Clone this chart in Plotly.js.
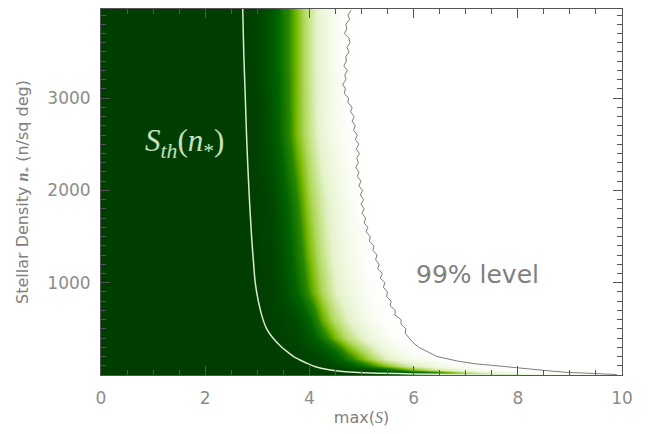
<!DOCTYPE html>
<html>
<head>
<meta charset="utf-8">
<script src="https://cdn.plot.ly/plotly-3.0.1.min.js"></script>
<style>html,body{margin:0;padding:0;background:#fff;}#chart{width:652px;height:434px;}</style>
</head>
<body>
<div id="chart"></div>
<script>
// Heatmap grid: columns are max(S), rows are stellar density n*
const heatX = [0, 2.75, 3.0, 3.25, 3.5, 3.75, 4.0, 4.25, 4.5, 4.75, 5.0, 5.25, 5.5, 5.75, 6.0, 6.5, 7.0, 7.5, 8.0, 8.5, 10];
const heatN = [0, 20, 50, 100, 170, 250, 400, 600, 900, 1300, 1900, 2600, 3300, 4000];
// brightness level 0 (dark green) .. 1 (white), one row per heatN value
const row0    = [0,0,0,0,0,0,0,0,0,0,0,0,0,0,0.04,0.10,0.30,0.55,0.75,0.90,1];
const row20   = [0,0,0,0,0,0,0,0,0,0,0.01,0.03,0.05,0.09,0.17,0.36,0.62,0.80,0.93,0.98,1];
const row50   = [0,0,0,0,0,0,0,0.01,0.03,0.06,0.10,0.20,0.32,0.44,0.55,0.73,0.90,0.97,1,1,1];
const row100  = [0,0,0,0,0,0,0.02,0.05,0.10,0.20,0.35,0.47,0.58,0.69,0.78,0.92,0.98,1,1,1,1];
const row170  = [0,0,0,0,0,0.02,0.05,0.10,0.22,0.40,0.55,0.68,0.80,0.87,0.93,0.98,1,1,1,1,1];
const row250  = [0,0,0,0,0.01,0.03,0.08,0.16,0.32,0.50,0.64,0.76,0.87,0.94,0.98,1,1,1,1,1,1];
const row400  = [0,0,0,0,0.03,0.07,0.20,0.38,0.55,0.69,0.80,0.90,0.96,0.99,1,1,1,1,1,1,1];
const row600  = [0,0,0,0.01,0.05,0.12,0.30,0.52,0.68,0.80,0.90,0.96,0.99,1,1,1,1,1,1,1,1];
const row900  = [0,0,0,0.02,0.12,0.30,0.48,0.65,0.79,0.88,0.95,0.99,1,1,1,1,1,1,1,1,1];
const row1300 = [0,0,0,0.04,0.18,0.36,0.55,0.71,0.83,0.92,0.97,1,1,1,1,1,1,1,1,1,1];
const row1900 = [0,0,0.01,0.07,0.25,0.43,0.62,0.76,0.87,0.95,0.99,1,1,1,1,1,1,1,1,1,1];
const row2600 = [0,0,0.03,0.17,0.36,0.55,0.71,0.85,0.94,0.98,1,1,1,1,1,1,1,1,1,1,1];
const row3300 = [0,0,0.05,0.20,0.38,0.55,0.72,0.86,0.95,0.99,1,1,1,1,1,1,1,1,1,1,1];
const row4000 = [0,0,0.05,0.20,0.38,0.55,0.72,0.86,0.95,0.99,1,1,1,1,1,1,1,1,1,1,1];

// Threshold curve S_th(n*)
const sthN = [3970, 3500, 3000, 2500, 2000, 1500, 1200, 1000, 800, 600, 500, 400, 300, 250, 200, 160, 120, 90, 60, 40, 30, 20, 12, 6, 2];
const sthX = [2.72, 2.74, 2.77, 2.80, 2.84, 2.89, 2.93, 2.96, 3.02, 3.11, 3.18, 3.30, 3.47, 3.58, 3.70, 3.83, 3.98, 4.12, 4.35, 4.60, 4.85, 5.30, 6.00, 7.00, 8.00];

// 99% level curve
const lvlN = [3950,3900,3850,3800,3750,3700,3650,3600,3550,3500,3450,3400,3350,3300,3250,3200,3150,3100,3050,3000,
  2950,2900,2850,2800,2750,2700,2650,2600,2550,2500,2450,2400,2350,2300,2250,2200,2150,2100,2050,2000,
  1950,1900,1850,1800,1750,1700,1650,1600,1550,1500,1450,1400,1350,1300,1250,1200,1150,1100,1050,1000,
  950,900,850,800,750,700,650,600,550,500,450,400,350,300,250,200,150,120,100,75,50,30,15,5];
const lvlX = [4.80,4.74,4.77,4.70,4.72,4.67,4.76,4.78,4.72,4.76,4.70,4.71,4.66,4.73,4.68,4.70,4.64,4.69,4.67,4.75,
  4.74,4.82,4.79,4.86,4.82,4.88,4.85,4.92,4.88,4.95,4.90,4.96,4.91,4.94,4.89,4.95,4.92,4.99,4.95,5.02,
  4.98,5.04,4.99,5.05,5.01,5.08,5.05,5.12,5.09,5.17,5.15,5.24,5.22,5.30,5.27,5.34,5.31,5.40,5.36,5.45,
  5.42,5.50,5.48,5.57,5.55,5.65,5.64,5.76,5.76,5.85,5.84,5.92,5.99,6.10,6.27,6.45,6.85,7.20,7.60,8.00,8.50,8.90,9.40,9.90];

const xTickVals = [0, 2, 4, 6, 8, 10];
const yTickVals = [1000, 2000, 3000];

const heatZ = [row0,row20,row50,row100,row170,row250,row400,row600,row900,row1300,row1900,row2600,row3300,row4000];

const greenScale = [
  [0.00, 'rgb(0,62,0)'],
  [0.15, 'rgb(0,78,0)'],
  [0.30, 'rgb(0,100,0)'],
  [0.45, 'rgb(40,135,0)'],
  [0.55, 'rgb(120,185,0)'],
  [0.65, 'rgb(175,215,90)'],
  [0.80, 'rgb(228,242,200)'],
  [1.00, 'rgb(255,255,255)']
];

const traces = [
  {type: 'heatmap', x: heatX, y: heatN, z: heatZ, zmin: 0, zmax: 1,
   colorscale: greenScale, showscale: false, zsmooth: 'best', hoverinfo: 'skip'},
  {type: 'scatter', mode: 'lines', x: sthX, y: sthN,
   line: {color: 'rgb(215,235,205)', width: 1.5, shape: 'spline', smoothing: 0.8}, hoverinfo: 'skip'},
  {type: 'scatter', mode: 'lines', x: lvlX, y: lvlN,
   line: {color: 'rgb(125,125,125)', width: 1}, hoverinfo: 'skip'}
];

const axisCommon = {
  showline: true, linecolor: '#555', linewidth: 1, mirror: 'allticks',
  ticks: 'inside', ticklen: 9, tickcolor: '#555', tickwidth: 1,
  showgrid: false, zeroline: false,
  tickfont: {family: 'DejaVu Sans, sans-serif', size: 17, color: '#8c8c8c'}
};

const layout = {
  width: 652, height: 434,
  margin: {l: 101, r: 30, t: 9, b: 59},
  paper_bgcolor: '#fff', plot_bgcolor: '#fff',
  showlegend: false,
  xaxis: Object.assign({}, axisCommon, {
    range: [0, 10], tickmode: 'array', tickvals: xTickVals, ticktext: xTickVals.map(String),
    ticklabelstandoff: 8,
    minor: {dtick: 0.5, tick0: 0, ticks: 'inside', ticklen: 5, tickcolor: '#555'},
    title: {text: 'max(<span style="font-family:Liberation Serif;font-style:italic">S</span>)',
            font: {family: 'DejaVu Sans, sans-serif', size: 16, color: '#808080'}, standoff: 4}
  }),
  yaxis: Object.assign({}, axisCommon, {
    range: [0, 3965], tickmode: 'array', tickvals: yTickVals, ticktext: yTickVals.map(String),
    ticklabelstandoff: 6,
    minor: {dtick: 100, tick0: 0, ticks: 'inside', ticklen: 5, tickcolor: '#555'},
    title: {text: 'Stellar Density <span style="font-family:Liberation Serif"><b><i>n</i></b><sub>*</sub></span> (n/sq deg)',
            font: {family: 'DejaVu Sans, sans-serif', size: 16, color: '#808080'}, standoff: 14}
  }),
  annotations: [
    {x: 1.6, y: 2510, xref: 'x', yref: 'y', showarrow: false, xanchor: 'center', yanchor: 'middle',
     text: '<i>S</i><sub><i>th</i></sub>(<i>n</i><sub>*</sub>)',
     font: {family: 'Liberation Serif, DejaVu Serif, serif', size: 31, color: 'rgb(200,225,190)'}},
    {x: 6.0, y: 1094, xref: 'x', yref: 'y', showarrow: false, xanchor: 'left', yanchor: 'middle',
     text: '99% level',
     font: {family: 'DejaVu Sans, sans-serif', size: 25, color: '#808080'}}
  ]
};

Plotly.newPlot('chart', traces, layout, {displayModeBar: false, staticPlot: true});
</script>
</body>
</html>
